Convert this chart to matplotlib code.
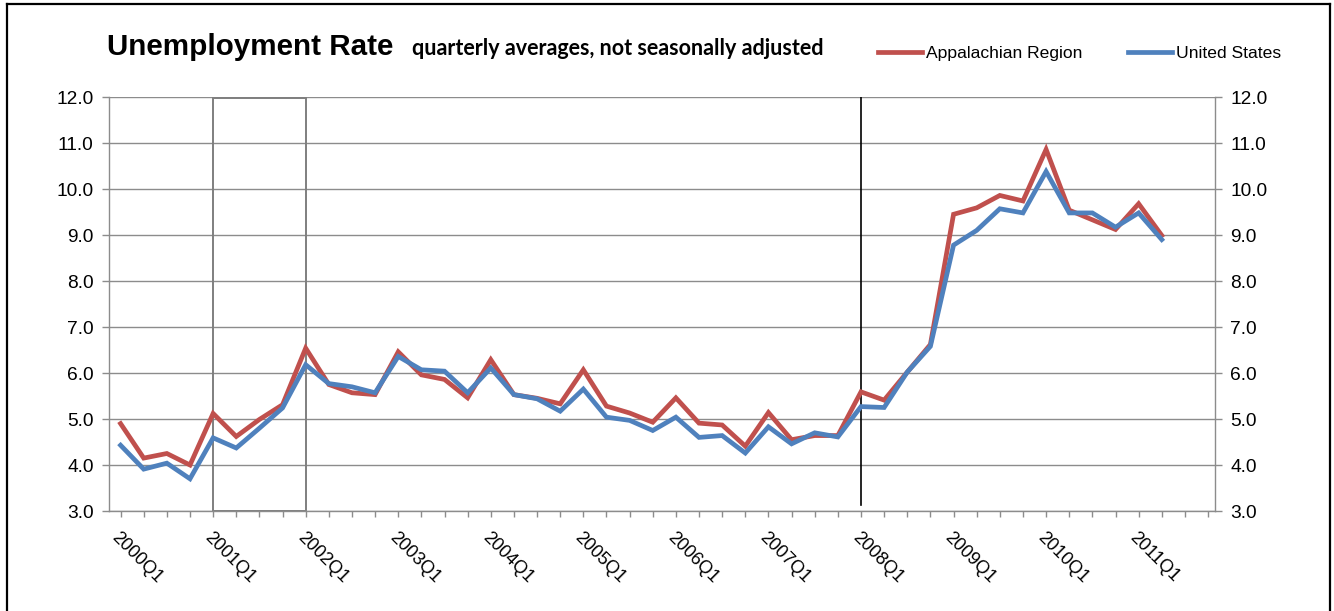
import matplotlib
matplotlib.use("Agg")
import matplotlib.pyplot as plt
from matplotlib.lines import Line2D
from matplotlib.patches import Rectangle
import numpy as np

# ---- data ----
quarters = [f"{y}Q{q}" for y in range(2000, 2012) for q in range(1, 5)]  # 2000Q1..2011Q4 axis categories
appalachian = [4.90, 4.15, 4.25, 4.00, 5.12, 4.62, 4.99, 5.31,
               6.54, 5.75, 5.57, 5.53, 6.46, 5.96, 5.86, 5.46,
               6.29, 5.53, 5.45, 5.33, 6.07, 5.28, 5.13, 4.93,
               5.46, 4.91, 4.87, 4.41, 5.14, 4.55, 4.64, 4.64,
               5.59, 5.41, 6.02, 6.62, 9.45, 9.59, 9.86, 9.74,
               10.86, 9.54, 9.33, 9.12, 9.68, 8.99]
united_states = [4.43, 3.91, 4.04, 3.70, 4.59, 4.37, 4.80, 5.24,
                 6.18, 5.77, 5.70, 5.57, 6.36, 6.07, 6.04, 5.57,
                 6.11, 5.53, 5.44, 5.17, 5.65, 5.04, 4.97, 4.75,
                 5.04, 4.60, 4.64, 4.26, 4.83, 4.46, 4.70, 4.61,
                 5.27, 5.25, 6.02, 6.58, 8.78, 9.10, 9.57, 9.48,
                 10.38, 9.48, 9.48, 9.17, 9.48, 8.90]
y_ticks = [3.0, 4.0, 5.0, 6.0, 7.0, 8.0, 9.0, 10.0, 11.0, 12.0]
recession_2001 = ("2001Q1", "2002Q1")
recession_2008 = "2008Q1"

RED = "#C0504D"
BLUE = "#4F81BD"
GRID = "#8C8C8C"
FONT = "Liberation Sans"

W, H = 1334, 611
fig = plt.figure(figsize=(W / 100, H / 100), dpi=100)
fig.patch.set_facecolor("white")

def fx(px):
    return px / W

def fy(py):
    return 1 - py / H

ax = fig.add_axes([fx(109), fy(511), fx(1215) - fx(109), fy(97) - fy(511)])

x = np.arange(len(appalachian))
l1, = ax.plot(x, appalachian, color=RED, lw=3.4, solid_joinstyle="miter", label="Appalachian Region", zorder=3)
l2, = ax.plot(x, united_states, color=BLUE, lw=3.4, solid_joinstyle="miter", label="United States", zorder=4)

ax.set_ylim(y_ticks[0], y_ticks[-1])
ax.set_xlim(-0.5, 47.3)
ax.set_yticks(y_ticks)
ax.set_yticklabels([f"{v:.1f}" for v in y_ticks])
ax.yaxis.grid(True, color=GRID, lw=1.0)
ax.set_axisbelow(True)

ax.set_xticks(np.arange(0, len(quarters), 4))
ax.set_xticklabels(quarters[::4], rotation=-45, ha="left", va="top", rotation_mode="anchor")
ax.set_xticks(np.arange(len(quarters)), minor=True)

ax.spines["top"].set_visible(False)
for side in ["left", "right", "bottom"]:
    ax.spines[side].set_color(GRID)
    ax.spines[side].set_linewidth(1.0)

ax.tick_params(axis="y", which="both", left=True, right=True, labelleft=True, labelright=True,
               direction="out", length=5, width=1.0, color=GRID, labelsize=13.8, pad=6)
ax.tick_params(axis="x", which="both", direction="out", length=4, width=1.0, color=GRID,
               labelsize=13, pad=9)
for lab in ax.get_xticklabels():
    lab.set_fontfamily(FONT)
for t in ax.yaxis.get_major_ticks():
    t.label1.set_fontfamily(FONT)
    t.label2.set_fontfamily(FONT)

# recession markers
i0 = quarters.index(recession_2001[0])
i1 = quarters.index(recession_2001[1])
ax.add_patch(Rectangle((i0, 3.0), i1 - i0, 8.97, fill=False, edgecolor="#7F7F7F", lw=1.4, zorder=2))
i2 = quarters.index(recession_2008)
ax.plot([i2, i2], [3.13, 12.0], color="black", lw=1.2, zorder=2)

# title
fig.text(fx(107), fy(55), "Unemployment Rate", fontsize=21.3, fontweight="bold",
         family=FONT, ha="left", va="baseline")
fig.text(fx(412), fy(55), "quarterly averages, not seasonally adjusted", fontsize=15.5,
         fontweight="bold", family="Lato", ha="left", va="baseline")

# legend
leg = fig.legend(handles=[l1, l2], loc="center left", bbox_to_anchor=(fx(878), fy(53)),
                 ncol=2, frameon=False, handlelength=2.5, handletextpad=0.25,
                 columnspacing=2.6, borderpad=0, borderaxespad=0,
                 prop={"family": FONT, "size": 12.6})

# figure border (left, top, right)
border_kw = dict(color="black", lw=1.6, transform=fig.transFigure)
fig.add_artist(Line2D([fx(7), fx(7)], [fy(4), 0], **border_kw))
fig.add_artist(Line2D([fx(7), fx(1330)], [fy(4), fy(4)], **border_kw))
fig.add_artist(Line2D([fx(1330), fx(1330)], [fy(4), 0], **border_kw))

fig.savefig("out.png", dpi=100)
